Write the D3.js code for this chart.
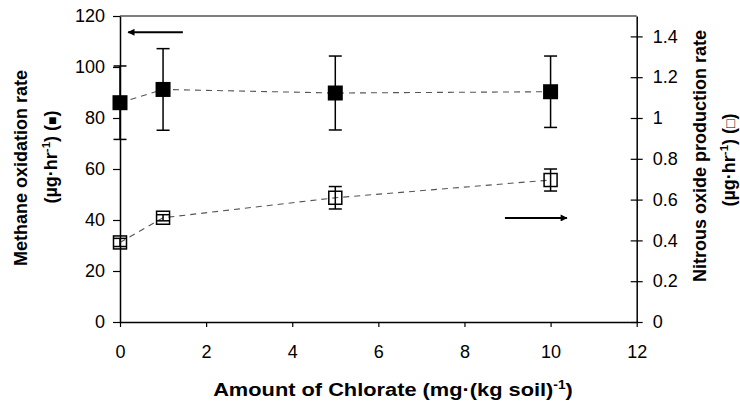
<!DOCTYPE html>
<html><head><meta charset="utf-8">
<script src="https://cdn.jsdelivr.net/npm/d3@7"></script>
<style>body{margin:0;background:#fff}svg{display:block}text{font-family:"Liberation Sans",Arial,sans-serif;fill:#000}</style>
</head><body>
<svg id="c" width="740" height="402"></svg>
<script>
const chlorate = [0, 1, 5, 10];
const methane = [86, 91.2, 89.8, 90.3];
const methaneErr = [14.4, 16, 14.5, 14];
const nitrous = [0.39, 0.511, 0.609, 0.696];
const nitrousErr = [0.02, 0.015, 0.055, 0.054];
const xTicks = [0, 2, 4, 6, 8, 10, 12];
const yLeftTicks = [0, 20, 40, 60, 80, 100, 120];
const yRightTicks = [0, 0.2, 0.4, 0.6, 0.8, 1, 1.2, 1.4];
const arrowLeft = {x1: 1.46, x2: 0.19, y: 113.6};
const arrowRight = {x1: 8.94, x2: 10.38, y: 0.51};

const svg = d3.select("#c");
const x = d3.scaleLinear().domain([0, 12]).range([120, 636.7]);
const yL = d3.scaleLinear().domain([0, 120]).range([322, 16]);
const yR = d3.scaleLinear().domain([0, 1.5]).range([322, 16]);

svg.append("defs").append("marker").attr("id","ah").attr("viewBox","0 0 10 10")
  .attr("refX",9).attr("refY",5).attr("markerWidth",4.5).attr("markerHeight",3.5)
  .attr("markerUnits","strokeWidth").attr("orient","auto")
  .append("path").attr("d","M0,0 L10,5 L0,10 z").attr("fill","#000");

// top border
svg.append("line").attr("x1", x(0)).attr("x2", x(12)).attr("y1", yL(120)).attr("y2", yL(120))
  .attr("stroke","#000").attr("stroke-width",1.2);

// axes
const gx = svg.append("g").attr("transform",`translate(0,${yL(0)})`)
  .call(d3.axisBottom(x).tickValues(xTicks).tickSize(5).tickSizeOuter(0).tickPadding(18).tickFormat(d3.format("d")));
const gl = svg.append("g").attr("transform",`translate(${x(0)},0)`)
  .call(d3.axisLeft(yL).tickValues(yLeftTicks).tickSize(7).tickSizeOuter(0).tickPadding(8).tickFormat(d3.format("d")));
const gr = svg.append("g").attr("transform",`translate(${x(12)},0)`)
  .call(d3.axisRight(yR).tickValues(yRightTicks).tickSize(6).tickSizeOuter(0).tickPadding(10).tickFormat(d => d3.format("")(+d.toFixed(1))));
gr.selectAll(".tick line").attr("x1",-6);
[gx,gl,gr].forEach(g=>{
  g.select(".domain").attr("stroke","#000").attr("stroke-width",1.5);
  g.selectAll(".tick line").attr("stroke","#000").attr("stroke-width",1.2);
  g.selectAll(".tick text").attr("font-size",18).attr("font-family","Liberation Sans, Arial, sans-serif");
});

// dashed lines
const lineL = d3.line().x((d,i)=>x(chlorate[i])).y(d=>yL(d));
const lineR = d3.line().x((d,i)=>x(chlorate[i])).y(d=>yR(d));
svg.append("path").attr("d", lineL(methane)).attr("fill","none").attr("stroke","#555").attr("stroke-width",1.1).attr("stroke-dasharray","6,5");
svg.append("path").attr("d", lineR(nitrous)).attr("fill","none").attr("stroke","#555").attr("stroke-width",1.1).attr("stroke-dasharray","6,5");

// error bars
function errBars(vals, errs, y){
  const g = svg.append("g").attr("stroke","#000").attr("stroke-width",1.5);
  vals.forEach((v,i)=>{
    const cx = x(chlorate[i]);
    g.append("line").attr("x1",cx).attr("x2",cx).attr("y1",y(v-errs[i])).attr("y2",y(v+errs[i]));
    [v-errs[i], v+errs[i]].forEach(e=>g.append("line").attr("x1",cx-6.5).attr("x2",cx+6.5).attr("y1",y(e)).attr("y2",y(e)));
  });
}
errBars(methane, methaneErr, yL);

// filled squares
svg.append("g").selectAll("rect").data(methane).join("rect")
  .attr("x",(d,i)=>x(chlorate[i])-7.5).attr("y",d=>yL(d)-7.5).attr("width",15).attr("height",15).attr("fill","#000");

// open squares
svg.append("g").selectAll("rect").data(nitrous).join("rect")
  .attr("x",(d,i)=>x(chlorate[i])-6.5).attr("y",d=>yR(d)-6.5).attr("width",13).attr("height",13)
  .attr("fill","none").attr("stroke","#000").attr("stroke-width",1.5);
errBars(nitrous, nitrousErr, yR);

// arrows
svg.append("line").attr("x1",x(arrowLeft.x1)).attr("x2",x(arrowLeft.x2)).attr("y1",yL(arrowLeft.y)).attr("y2",yL(arrowLeft.y))
  .attr("stroke","#000").attr("stroke-width",2).attr("marker-end","url(#ah)");
svg.append("line").attr("x1",x(arrowRight.x1)).attr("x2",x(arrowRight.x2)).attr("y1",yR(arrowRight.y)).attr("y2",yR(arrowRight.y))
  .attr("stroke","#000").attr("stroke-width",2).attr("marker-end","url(#ah)");

// titles
const xt = svg.append("text").attr("x",393).attr("y",396).attr("text-anchor","middle")
  .attr("font-size",19).attr("font-weight","bold");
xt.append("tspan").text("Amount of Chlorate (mg·(kg soil)");
xt.append("tspan").attr("dy",-7).attr("font-size",12).text("-1");
xt.append("tspan").attr("dy",7).text(")");
const xtw = xt.node().getBBox().width;
xt.attr("transform",`translate(393,0) scale(${360/xtw},1) translate(-393,0)`);

function vtitle(cx, cy, parts){
  const t = svg.append("text").attr("transform",`translate(${cx},${cy}) rotate(-90)`).attr("text-anchor","middle")
    .attr("font-size",18).attr("font-weight","bold");
  parts.forEach(p=>{
    const s = t.append("tspan").text(p.t);
    if (p.sup) s.attr("dy",-7).attr("font-size",11.5);
    if (p.down) s.attr("dy",7);
    if (p.normal) s.attr("font-weight","normal").attr("font-size",14);
  });
}
vtitle(27, 168, [{t:"Methane oxidation rate"}]);
vtitle(57, 157, [{t:"(µg·hr"},{t:"-1",sup:true},{t:") (",down:true},{t:"■",normal:true},{t:")"}]);
vtitle(706, 156, [{t:"Nitrous oxide production rate"}]);
vtitle(735, 160, [{t:"(µg·hr"},{t:"-1",sup:true},{t:") (",down:true},{t:"□",normal:true},{t:")"}]);
</script>
</body></html>
